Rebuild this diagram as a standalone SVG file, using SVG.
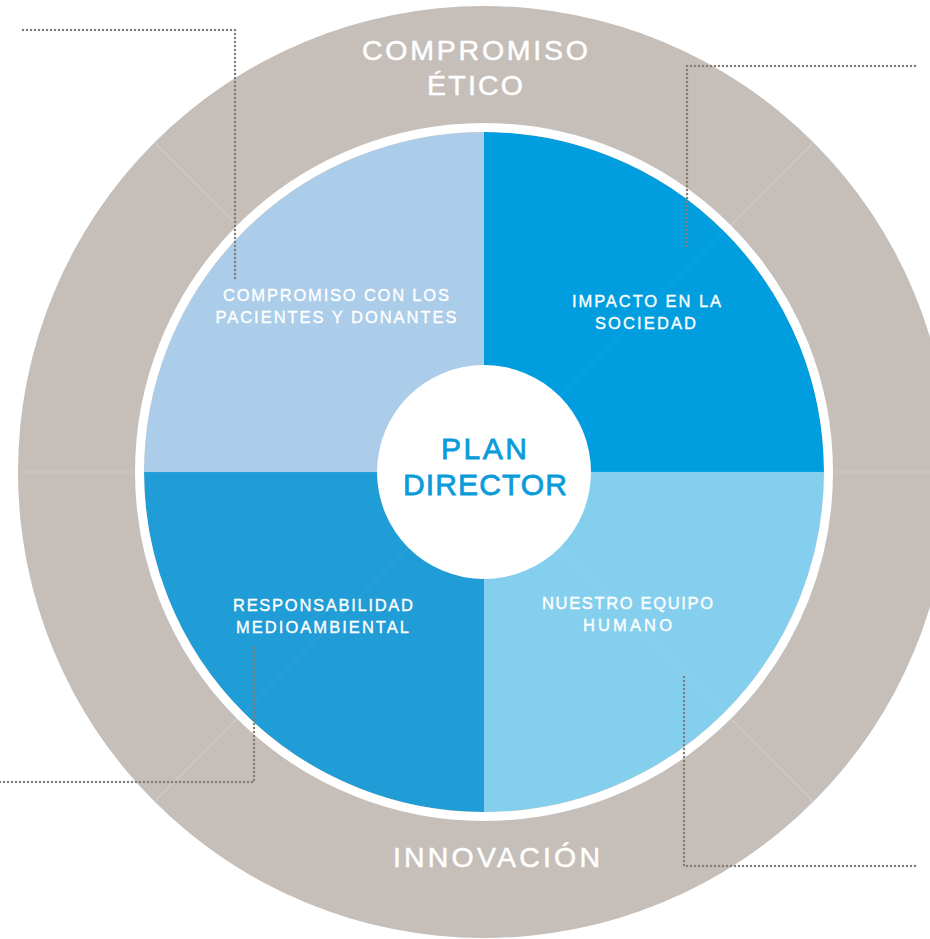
<svg xmlns="http://www.w3.org/2000/svg" width="930" height="939" viewBox="0 0 930 939">
<style>
.ring{fill:#C5BEB9}
.div{stroke:#FFFFFF;stroke-opacity:0.2;stroke-width:1.2;fill:none}
.divq{stroke:#FFFFFF;stroke-opacity:0.09;stroke-width:1;fill:none}
.dot{stroke:#857D78;stroke-width:2.5;stroke-linecap:round;stroke-dasharray:0 4;fill:none}
.big{font-family:"Liberation Sans",Arial,sans-serif;fill:#FFFFFF;stroke:#FFFFFF;stroke-width:0.5;font-size:28.5px;text-anchor:middle}
.lab{font-family:"Liberation Sans",Arial,sans-serif;fill:#FFFFFF;stroke:#FFFFFF;stroke-width:0.35;font-size:16.5px;text-anchor:middle}
.ctr{font-family:"Liberation Sans",Arial,sans-serif;fill:#0A9BDB;stroke:#0A9BDB;stroke-width:0.8;font-size:30px;text-anchor:middle}
</style>
<rect width="930" height="939" fill="#FFFFFF"/>
<g id="outer-ring">
<circle class="ring" cx="484" cy="472" r="466"/>
<line class="div" x1="18" y1="472" x2="950" y2="472"/>
<line class="div" x1="154.5" y1="142.5" x2="813.5" y2="801.5"/>
<line class="div" x1="154.5" y1="801.5" x2="813.5" y2="142.5"/>
</g>
<g id="quadrants">
<path id="q-tl" d="M484,472 L144,472 A340,340 0 0 1 484,132 Z" fill="#ABCDE9"/>
<path id="q-tr" d="M484,472 L484,132 A340,340 0 0 1 824,472 Z" fill="#009EDF"/>
<path id="q-br" d="M484,472 L824,472 A340,340 0 0 1 484,812 Z" fill="#85CFEE"/>
<path id="q-bl" d="M484,472 L484,812 A340,340 0 0 1 144,472 Z" fill="#209CD6"/>
<line class="divq" x1="144" y1="472" x2="824" y2="472"/>
<line class="divq" x1="243.6" y1="231.6" x2="724.4" y2="712.4"/>
<line class="divq" x1="243.6" y1="712.4" x2="724.4" y2="231.6"/>
</g>
<circle cx="484" cy="472" r="344.5" fill="none" stroke="#FFFFFF" stroke-width="9"/>
<g id="ring-labels">
<text class="big" x="475" y="60" textLength="226" lengthAdjust="spacing">COMPROMISO</text>
<text class="big" x="475" y="95" textLength="96" lengthAdjust="spacing">ÉTICO</text>
<text class="big" x="496.5" y="867" textLength="207" lengthAdjust="spacing">INNOVACIÓN</text>
</g>
<g id="node-pacientes">
<text class="lab" x="336" y="301" textLength="226" lengthAdjust="spacing">COMPROMISO CON LOS</text>
<text class="lab" x="336" y="323" textLength="241" lengthAdjust="spacing">PACIENTES Y DONANTES</text>
</g>
<g id="node-sociedad">
<text class="lab" x="646.5" y="307" textLength="149" lengthAdjust="spacing">IMPACTO EN LA</text>
<text class="lab" x="645.5" y="329" textLength="101" lengthAdjust="spacing">SOCIEDAD</text>
</g>
<g id="node-medioambiente">
<text class="lab" x="323" y="611" textLength="180" lengthAdjust="spacing">RESPONSABILIDAD</text>
<text class="lab" x="322.5" y="633" textLength="173" lengthAdjust="spacing">MEDIOAMBIENTAL</text>
</g>
<g id="node-equipo">
<text class="lab" x="627.5" y="609" textLength="171" lengthAdjust="spacing">NUESTRO EQUIPO</text>
<text class="lab" x="627.5" y="631" textLength="89" lengthAdjust="spacing">HUMANO</text>
</g>
<g id="node-plan-director">
<circle cx="484" cy="472" r="107" fill="#FFFFFF"/>
<text class="ctr" x="484" y="459" textLength="86" lengthAdjust="spacing">PLAN</text>
<text class="ctr" x="485" y="495" textLength="164" lengthAdjust="spacing">DIRECTOR</text>
</g>
<g id="connectors">
<polyline class="dot" points="23,30 235,30 235,281"/>
<polyline class="dot" points="915,66 687,66 687,250"/>
<polyline class="dot" points="0,782 254,782 254,647"/>
<polyline class="dot" points="915,866 684,866 684,673"/>
</g>
</svg>
